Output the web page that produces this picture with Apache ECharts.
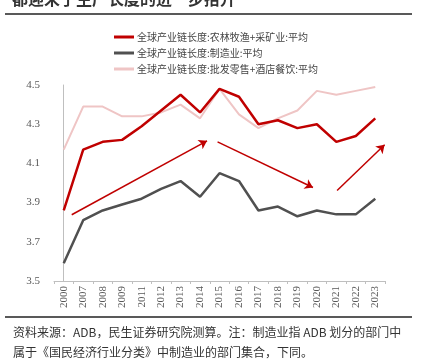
<!DOCTYPE html>
<html><head><meta charset="utf-8">
<script src="https://cdn.jsdelivr.net/npm/echarts@6/dist/echarts.min.js"></script>
<style>html,body{margin:0;padding:0;background:#fff}#c{width:423px;height:360px}</style>
</head><body><div id="c"></div>
<script>
var categories = ['2000','2007','2008','2009','2011','2012','2013','2014','2015','2016','2017','2018','2019','2020','2021','2022','2023'];
var seriesNames = ['全球产业链长度:农林牧渔+采矿业:平均','全球产业链长度:制造业:平均','全球产业链长度:批发零售+酒店餐饮:平均'];
var agriMining = [3.86,4.17,4.21,4.22,4.29,4.37,4.45,4.36,4.48,4.44,4.30,4.32,4.28,4.30,4.21,4.24,4.33];
var manufacturing = [3.59,3.81,3.86,3.89,3.92,3.97,4.01,3.93,4.05,4.01,3.86,3.88,3.83,3.86,3.84,3.84,3.92];
var retailHotel = [4.17,4.39,4.39,4.34,4.34,4.36,4.40,4.33,4.48,4.35,4.28,4.33,4.37,4.47,4.45,4.47,4.49];
var yTicks = [3.5,3.7,3.9,4.1,4.3,4.5];
// trend arrows: [start index, start value], [end index, end value]
var arrows = [
  [[0.41,3.838],[7.36,4.215]],
  [[7.9,4.21],[12.8,3.977]],
  [[14.04,3.962],[16.48,4.195]]
];
var colors = ['#c00000','#505050','#efc5c5'];
var serif = '"Liberation Serif", "Noto Sans CJK SC", serif';
var chart = echarts.init(document.getElementById('c'));
chart.setOption({
  animation:false,
  color: colors,
  grid:{left:54,right:38,top:85,bottom:79},
  legend:{orient:'vertical',left:109,top:27,itemGap:6,itemWidth:20,itemHeight:12,
    textStyle:{fontFamily:'"Noto Sans CJK SC"',fontSize:10,color:'#444',padding:[0,0,0,-2]},
    data:seriesNames.map(function(n,i){return {name:n,itemStyle:{color:colors[i]},icon:'path://M0,5 L20,5 L20,8 L0,8 Z'};})},
  xAxis:[{type:'category',data:categories,boundaryGap:true,
    axisLine:{lineStyle:{color:'#bfbfbf'}},
    axisTick:{show:true,length:3,lineStyle:{color:'#bfbfbf'}},
    axisLabel:{rotate:90,fontFamily:serif,fontSize:11,color:'#595959',margin:5}},
   {type:'value',min:-0.5,max:16.5,show:false}],
  yAxis:{type:'value',min:3.5,max:4.5,interval:0.2,
    axisLine:{show:true,lineStyle:{color:'#bfbfbf'}},
    axisTick:{show:false},
    splitLine:{show:false},
    axisLabel:{fontFamily:serif,fontSize:11,color:'#595959',margin:14,formatter:function(v){return v.toFixed(1);}}},
  series:[
    {name:seriesNames[0],type:'line',data:agriMining,symbol:'none',lineStyle:{width:2.5,color:colors[0]},z:4},
    {name:seriesNames[1],type:'line',data:manufacturing,symbol:'none',lineStyle:{width:2.5,color:colors[1]},z:3},
    {name:seriesNames[2],type:'line',data:retailHotel,symbol:'none',lineStyle:{width:2,color:colors[2]},z:2},
    {type:'lines',coordinateSystem:'cartesian2d',xAxisIndex:1,yAxisIndex:0,
      symbol:['none','arrow'],symbolSize:8,
      lineStyle:{color:'#c00000',width:1.5,opacity:1},
      data:arrows.map(function(a){return {coords:a};}),z:5}
  ],
  graphic:[
    {type:'text',left:12,top:-9,style:{text:'都迎来了生产长度的进一步抬升',fontSize:16,fontWeight:'bold',fill:'#333',fontFamily:'"Noto Sans CJK SC"'}},
    {type:'rect',shape:{x:5,y:13,width:407,height:2},style:{fill:'#595959'}},
    {type:'rect',shape:{x:5,y:316,width:407,height:2},style:{fill:'#595959'}},
    {type:'text',left:13,top:322,style:{text:'资料来源：ADB，民生证券研究院测算。注：制造业指 ADB 划分的部门中\n属于《国民经济行业分类》中制造业的部门集合，下同。',fontSize:12,lineHeight:20,fill:'#333',fontFamily:'"Noto Sans CJK SC"'}}
  ]
});
</script></body></html>
